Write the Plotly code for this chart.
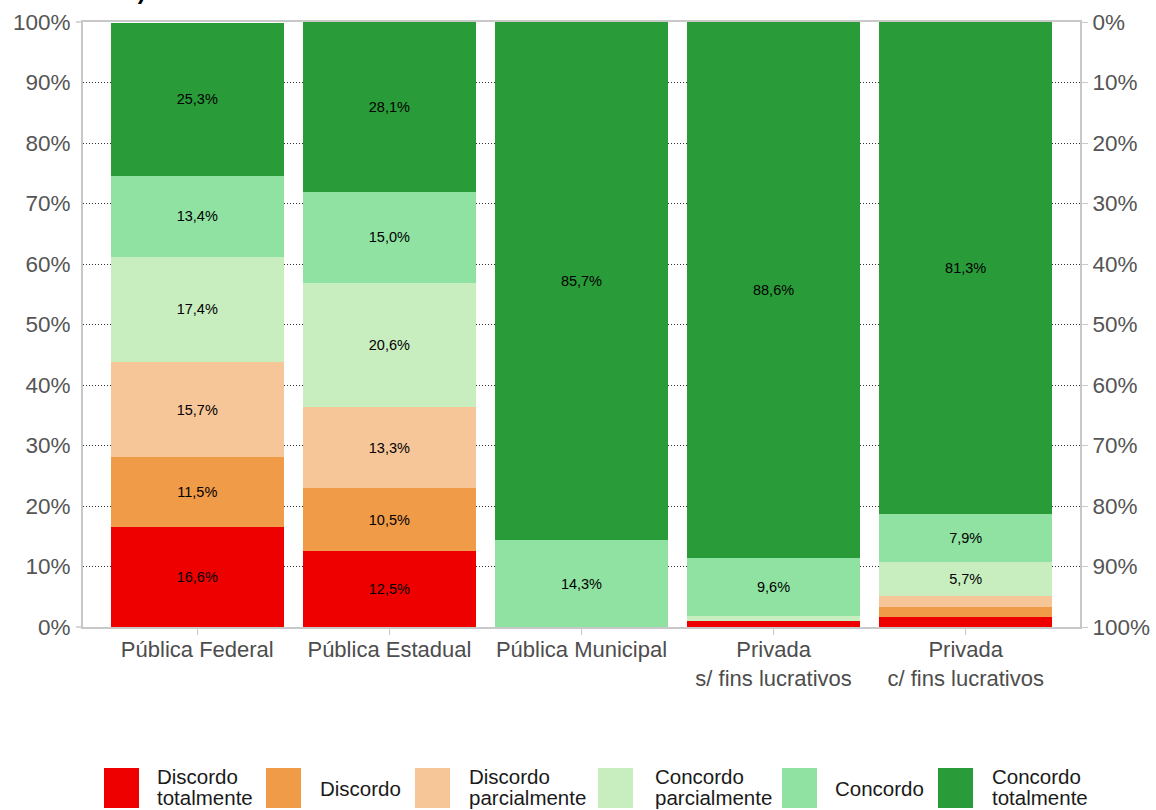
import plotly.graph_objects as go

# --- data -------------------------------------------------------------
categorias = [
    "Pública Federal",
    "Pública Estadual",
    "Pública Municipal",
    "Privada<br>s/ fins lucrativos",
    "Privada<br>c/ fins lucrativos",
]
niveis = [
    "Discordo totalmente",
    "Discordo",
    "Discordo parcialmente",
    "Concordo parcialmente",
    "Concordo",
    "Concordo totalmente",
]
legenda_linhas = [
    ["Discordo", "totalmente"],
    ["Discordo"],
    ["Discordo", "parcialmente"],
    ["Concordo", "parcialmente"],
    ["Concordo"],
    ["Concordo", "totalmente"],
]
discordo_totalmente = [16.6, 12.5, 0.0, 1.0, 1.6]
discordo = [11.5, 10.5, 0.0, 0.0, 1.7]
discordo_parcialmente = [15.7, 13.3, 0.0, 0.0, 1.8]
concordo_parcialmente = [17.4, 20.6, 0.0, 0.8, 5.7]
concordo = [13.4, 15.0, 14.3, 9.6, 7.9]
concordo_totalmente = [25.3, 28.1, 85.7, 88.6, 81.3]

series = [
    discordo_totalmente,
    discordo,
    discordo_parcialmente,
    concordo_parcialmente,
    concordo,
    concordo_totalmente,
]
cores = ["#ee0000", "#f09b47", "#f7c698", "#c8eebf", "#8fe2a1", "#299c39"]

yticks = list(range(0, 101, 10))

# --- layout geometry (pixels) -----------------------------------------
W, H = 1156, 810
ML, MR, MT, MB = 83, 76, 22, 183
PW, PH = W - ML - MR, H - MT - MB
FONT = "Liberation Sans, Arial, sans-serif"


def px_x(px):
    return (px - ML) / PW


def px_y(py):
    return (H - MB - py) / PH


fig = go.Figure()

for nome, valores, cor in zip(niveis, series, cores):
    textos = [f"{v:.1f}%".replace(".", ",") if v >= 5 else "" for v in valores]
    fig.add_trace(
        go.Bar(
            x=categorias,
            y=valores,
            name=nome,
            marker=dict(color=cor, line=dict(width=0)),
            width=0.9,
            text=textos,
            textposition="inside",
            insidetextanchor="middle",
            textangle=0,
            textfont=dict(family=FONT, size=14.5, color="#000000"),
            constraintext="none",
            showlegend=False,
            hoverinfo="skip",
        )
    )

# invisible trace to drive the reversed right-hand axis
fig.add_trace(
    go.Scatter(x=[categorias[0]], y=[0], yaxis="y2", mode="markers",
               marker=dict(opacity=0), showlegend=False, hoverinfo="skip")
)

axis_gray = "#c8c8c8"
tick_font = dict(family=FONT, size=22.5, color="#555555")

fig.update_layout(
    width=W,
    height=H,
    barmode="stack",
    bargap=0.1,
    plot_bgcolor="white",
    paper_bgcolor="white",
    margin=dict(l=ML, r=MR, t=MT, b=MB, pad=0, autoexpand=False),
    xaxis=dict(
        type="category",
        range=[-0.595, 4.595],
        automargin=False,
        showline=True,
        linecolor=axis_gray,
        linewidth=2,
        mirror=True,
        ticks="outside",
        ticklen=6,
        tickcolor=axis_gray,
        tickwidth=1,
        ticklabelstandoff=-4,
        tickfont=dict(family=FONT, size=22, color="#4d4d4d"),
        showgrid=False,
        zeroline=False,
    ),
    yaxis=dict(
        range=[0, 100],
        automargin=False,
        tickvals=yticks,
        ticktext=[f"{v}%" for v in yticks],
        tickfont=tick_font,
        ticklabelstandoff=6,
        showline=True,
        linecolor=axis_gray,
        linewidth=2,
        ticks="",
        showgrid=True,
        gridcolor="#333333",
        gridwidth=1,
        griddash="1px,2px",
        zeroline=False,
    ),
    yaxis2=dict(
        overlaying="y",
        side="right",
        range=[100, 0],
        automargin=False,
        tickvals=yticks,
        ticktext=[f"{v}%" for v in yticks],
        tickfont=tick_font,
        showline=True,
        linecolor=axis_gray,
        linewidth=2,
        ticks="outside",
        ticklen=6,
        tickcolor=axis_gray,
        showgrid=False,
        zeroline=False,
    ),
    showlegend=False,
)

# short extensions of the frame at 0% and 100% on the left
for yv in (0, 1):
    fig.add_shape(type="line", xref="paper", yref="paper",
                  x0=px_x(76), x1=0, y0=yv, y1=yv,
                  line=dict(color=axis_gray, width=1.5))

# title line running off the top edge
fig.add_annotation(
    text="<b>(1 = discordo totalmente; 6 = concordo totalmente)</b>",
    xref="paper", yref="paper",
    x=px_x(148), y=px_y(6),
    xanchor="right", yanchor="bottom",
    showarrow=False,
    font=dict(family=FONT, size=24, color="#000000"),
)

# legend: large swatches with one- or two-line labels
swatch_x = [104, 266, 415, 598, 782, 938]
label_x = [155, 318, 467, 653, 833, 990]
for sx, lx, cor, linhas in zip(swatch_x, label_x, cores, legenda_linhas):
    fig.add_shape(type="rect", xref="paper", yref="paper",
                  x0=px_x(sx), x1=px_x(sx + 35), y0=px_y(768), y1=px_y(808),
                  fillcolor=cor, line=dict(width=0))
    centros = [788] if len(linhas) == 1 else [776, 797]
    for linha, cy in zip(linhas, centros):
        fig.add_annotation(
            text=linha, xref="paper", yref="paper",
            x=px_x(lx), y=px_y(cy), xanchor="left", yanchor="middle",
            align="left", showarrow=False,
            font=dict(family=FONT, size=20.5, color="#1a1a1a"),
        )

fig.write_html("out.html")
